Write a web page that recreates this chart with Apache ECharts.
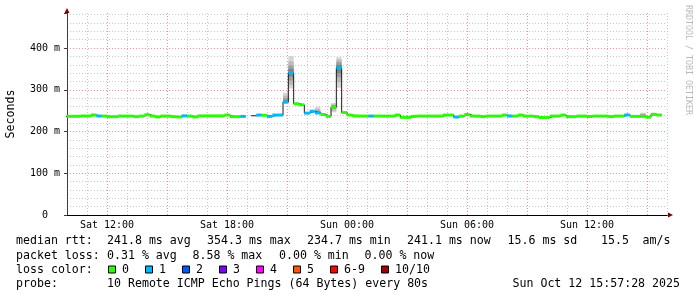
<!DOCTYPE html>
<html><head><meta charset="utf-8">
<script src="https://cdn.jsdelivr.net/npm/echarts@6/dist/echarts.min.js"></script>
<style>html,body{margin:0;padding:0;background:#fff}#c{width:697px;height:297px}</style>
</head><body><div id="c"></div>
<script>
// ---- data ----
const BIN_MINUTES = 16;          // consolidation step
const FIRST_BIN = 37;            // bin number counted from Sat 00:00
// median rtt per bin (ms), null = no data
const median = [
  236.5,236.5,236.5,237.2,237.2,239.6,237.1,237,235.5,235.5,237,237,
  237,235.5,237,240.3,237,235,237,237,235.5,235,237.5,237,
  235,237.5,237.5,237.5,237.5,237.5,239.6,235.6,235.6,236.3,null,237.8,
  239.5,239,236.3,239.5,239.5,270.7,340.6,266.6,264,244,248.6,244.5,
  240.7,236.3,258.7,352.6,245.5,239.5,237.5,237.1,237.1,237,237,237,
  237,237,239.5,233.9,233.9,236.3,237,237,237,237,237,239.5,
  239.5,234.7,237,241,237,237,235.6,237,237,237,239.5,237.2,
  237,239.5,237,237,235.6,233.5,233.5,237,237,239.5,235.6,235.6,
  237,237,236,237,237,237,235.6,237,237,239.6,236.3,236.3,
  236.3,234.4,241,239.5
];
// lost pings (of 10) per bin, null = unknown
const lossCount = [
  0,0,0,0,0,0,1,0,0,0,0,0,
  0,0,0,0,0,0,0,0,0,0,1,0,
  0,0,0,0,0,0,0,0,0,1,null,null,
  1,0,1,1,1,1,1,0,0,1,1,1,
  0,0,0,1,0,0,0,0,0,1,0,0,
  0,0,0,0,0,0,0,0,0,0,0,0,
  0,1,0,0,0,0,0,0,0,0,0,1,
  0,0,0,0,0,0,0,0,0,0,0,0,
  0,0,0,0,0,0,0,0,0,1,0,0,
  0,0,0,0
];
// bins with visible smoke: sorted 10 ping times (ms)
const smokeBin = [78, 79, 84, 87, 88, 142, 145, 147];
const smokePings = [
  [266,268,269,270,270.5,271,275,280,286,293],
  [303,312,322,332,339,342,350,358,368,381],
  [243,243.5,244,244.2,244.4,244.6,246,250,254,259],
  [246,250,254,257,258,259.4,261,263,265,268],
  [305,318,330,340,350,355,360,366,372,378],
  [238,238.5,239,239.3,239.5,239.7,240,240.5,241,243],
  [235,235.5,236,236.2,236.3,236.4,238,241,243,245],
  [239,239.5,240,240.5,240.8,241.2,242,243,244,245]
];
const xTickHours = [12, 18, 24, 30, 36];
const xTickLabels = ['Sat 12:00', 'Sat 18:00', 'Sun 00:00', 'Sun 06:00', 'Sun 12:00'];
const yTickValues = [0, 100, 200, 300, 400];
const yTickLabels = ['0  ', '100 m', '200 m', '300 m', '400 m'];
const legendNames = ['0', '1', '2', '3', '4', '5', '6-9', '10/10'];
const legendColors = ['#26ff00', '#00b8ff', '#0059ff', '#7e00ff', '#ff00ff', '#ff5500', '#ff0000', '#a10000'];
const lossColorByCount = ['#26ff00', '#00b8ff', '#0059ff', '#7e00ff', '#ff00ff', '#ff5500', '#ff0000', '#ff0000', '#ff0000', '#ff0000', '#a10000'];
const rttStats = ['241.8 ms avg', '354.3 ms max', '234.7 ms min', '241.1 ms now', '15.6 ms sd', '15.5', 'am/s'];
const lossStats = ['0.31 % avg', '8.58 % max', '0.00 % min', '0.00 % now'];
const probeText = '10 Remote ICMP Echo Pings (64 Bytes) every 80s';
const stampText = 'Sun Oct 12 15:57:28 2025';

// ---- layout / style ----
const X_MIN = 10, X_MAX = 40, Y_MAX = 484;
const MONO = '"DejaVu Sans Mono", monospace';
const GRID_GRAY = '#c6c6c6', GRID_RED = '#ef9494';
const smokeShades = ['#d4d4d4', '#bababa', '#9e9e9e', '#828282', '#666666'];

const binHour = i => (FIRST_BIN + i) * BIN_MINUTES / 60;

const blackData = [];
const colorData = [];
median.forEach((m, i) => {
  const h0 = binHour(i), h1 = binHour(i + 1);
  if (m == null) { blackData.push([h0, '-']); return; }
  blackData.push([h0, m], [h1, m]);
  if (lossCount[i] != null) colorData.push([h0, h1, m, lossCount[i]]);
});
const smokeData = smokeBin.map((b, j) => {
  const i = b - FIRST_BIN;
  return [binHour(i), binHour(i + 1)].concat(smokePings[j]);
});

function clampX(x, cs) { return Math.min(Math.max(x, cs.x), cs.x + cs.width); }

function renderColor(params, api) {
  const cs = params.coordSys;
  const m = api.value(2);
  const p0 = api.coord([api.value(0), m]);
  const p1 = api.coord([api.value(1), m]);
  const x0 = clampX(p0[0], cs), x1 = clampX(p1[0], cs);
  return { type: 'rect', shape: { x: x0, y: p0[1] - 1.5, width: x1 - x0, height: 3 },
           style: { fill: lossColorByCount[api.value(3)] } };
}
function renderSmoke(params, api) {
  const cs = params.coordSys;
  const children = [];
  for (let j = 0; j < 5; j++) {
    const a = api.coord([api.value(0), api.value(11 - j)]);
    const b = api.coord([api.value(1), api.value(2 + j)]);
    const x0 = clampX(a[0], cs), x1 = clampX(b[0], cs);
    children.push({ type: 'rect', shape: { x: x0, y: a[1], width: x1 - x0, height: Math.max(b[1] - a[1], 0.5) },
                    style: { fill: smokeShades[j] } });
  }
  return { type: 'group', children };
}

const hourCats = [];
for (let h = X_MIN; h <= X_MAX; h++) hourCats.push(String(h));

// ---- text graphics ----
const graphics = [];
function txt(s, x, y, size, align) {
  const a = align || 'left';
  graphics.push({
    type: 'text', x: x, y: y, silent: true,
    style: { text: s, font: size + 'px ' + MONO, fill: '#000', textAlign: a, textVerticalAlign: 'middle', align: a, verticalAlign: 'middle' }
  });
}
const ROW = [241, 255.5, 269.5, 283.5];
const FS = 11.6;
txt('median rtt:', 16, ROW[0], FS);
[107, 207, 307, 407, 507.5, 601, 642.5].forEach((x, i) => txt(rttStats[i], x, ROW[0], FS));
txt('packet loss:', 16, ROW[1], FS);
[107, 192.5, 279, 364.5].forEach((x, i) => txt(lossStats[i], x, ROW[1], FS));
txt('loss color:', 16, ROW[2], FS);
let lx = 108.5;
legendNames.forEach((n, i) => {
  graphics.push({ type: 'rect', silent: true, shape: { x: lx, y: ROW[2] - 3.5, width: 7, height: 7 },
                  style: { fill: legendColors[i], stroke: '#000', lineWidth: 1 } });
  txt(n, lx + 13.5, ROW[2], FS);
  lx += 13.5 + n.length * 7 + 16.5;
});
txt('probe:', 16, ROW[3], FS);
txt(probeText, 107, ROW[3], FS);
txt(stampText, 680, ROW[3], FS, 'right');
// y axis title
graphics.push({ type: 'text', x: 11, y: 114, rotation: Math.PI / 2, silent: true,
  style: { text: 'Seconds', font: '11.6px ' + MONO, fill: '#000', textAlign: 'center', textVerticalAlign: 'middle', align: 'center', verticalAlign: 'middle' } });
// watermark
graphics.push({ type: 'text', x: 688.5, y: 60, rotation: -Math.PI / 2, silent: true,
  style: { text: 'RRDTOOL / TOBI OETIKER', font: '8.3px ' + MONO, fill: '#b9b9b9', textAlign: 'center', textVerticalAlign: 'middle', align: 'center', verticalAlign: 'middle' } });

const chart = echarts.init(document.getElementById('c'), null, { renderer: 'canvas' });
chart.setOption({
  animation: false,
  backgroundColor: '#ffffff',
  grid: { left: 67, right: 30, top: 13, bottom: 82, containLabel: false },
  xAxis: [
    { type: 'value', min: X_MIN, max: X_MAX, interval: 1, z: 1, position: 'bottom',
      axisLine: { show: false }, axisTick: { show: false }, axisLabel: { show: false },
      splitLine: { show: true, lineStyle: { color: GRID_GRAY, width: 1, type: [1, 2] } } },
    { type: 'category', data: hourCats, boundaryGap: false, position: 'bottom', z: 3,
      axisLine: { show: true, onZero: false, lineStyle: { color: '#000', width: 1 } },
      axisTick: { show: false },
      axisLabel: { show: true, interval: (idx) => xTickHours.indexOf(X_MIN + idx) >= 0,
        formatter: (v) => { const k = xTickHours.indexOf(Number(v)); return k >= 0 ? xTickLabels[k] : ''; },
        fontFamily: MONO, fontSize: 10, color: '#000', margin: 5 },
      splitLine: { show: true, interval: (idx) => (X_MIN + idx) % 3 === 0,
        lineStyle: { color: GRID_RED, width: 1, type: [1, 2] } } },
    { type: 'value', min: X_MIN, max: X_MAX, z: 2, position: 'bottom',
      axisLine: { show: true, onZero: false, symbol: ['none', 'triangle'], symbolSize: [5, 5], symbolOffset: [0, 3.5],
        lineStyle: { color: '#800000', width: 1 } },
      axisTick: { show: false }, axisLabel: { show: false }, splitLine: { show: false } }
  ],
  yAxis: [
    { type: 'value', min: 0, max: Y_MAX, interval: 20, z: 1, position: 'left',
      axisLine: { show: false }, axisTick: { show: false },
      axisLabel: { show: true, margin: 7, fontFamily: MONO, fontSize: 10, color: '#000',
        formatter: (v) => { const k = yTickValues.indexOf(v); return k >= 0 ? yTickLabels[k] : ''; } },
      splitLine: { show: true, showMaxLine: false, lineStyle: { color: GRID_GRAY, width: 1, type: [1, 2] } } },
    { type: 'value', min: 0, max: Y_MAX, interval: 100, z: 3, position: 'left', offset: 0,
      axisLine: { show: true, onZero: false, lineStyle: { color: '#3c3c3c', width: 1 } },
      axisTick: { show: true, length: 3, lineStyle: { color: '#3c3c3c' } }, axisLabel: { show: false },
      splitLine: { show: true, showMaxLine: false, showMinLine: false, lineStyle: { color: GRID_RED, width: 1, type: [1, 2] } } },
    { type: 'value', min: 0, max: Y_MAX, z: 2, position: 'left', offset: 0,
      axisLine: { show: true, onZero: false, symbol: ['none', 'triangle'], symbolSize: [5, 5], symbolOffset: [0, 2.5],
        lineStyle: { color: '#800000', width: 1 } },
      axisTick: { show: false }, axisLabel: { show: false }, splitLine: { show: false } }
  ],
  series: [
    { type: 'custom', name: 'smoke', xAxisIndex: 0, yAxisIndex: 0, z: 4, silent: true,
      renderItem: renderSmoke, data: smokeData, encode: { x: [0, 1], y: [2, 11] } },
    { type: 'line', name: 'median', xAxisIndex: 0, yAxisIndex: 0, z: 5, silent: true,
      data: blackData, symbol: 'none', connectNulls: false,
      lineStyle: { color: '#1a1a1a', width: 1 } },
    { type: 'custom', name: 'loss', xAxisIndex: 0, yAxisIndex: 0, z: 6, silent: true,
      renderItem: renderColor, data: colorData, encode: { x: [0, 1], y: 2 } }
  ],
  graphic: graphics
});
</script></body></html>
